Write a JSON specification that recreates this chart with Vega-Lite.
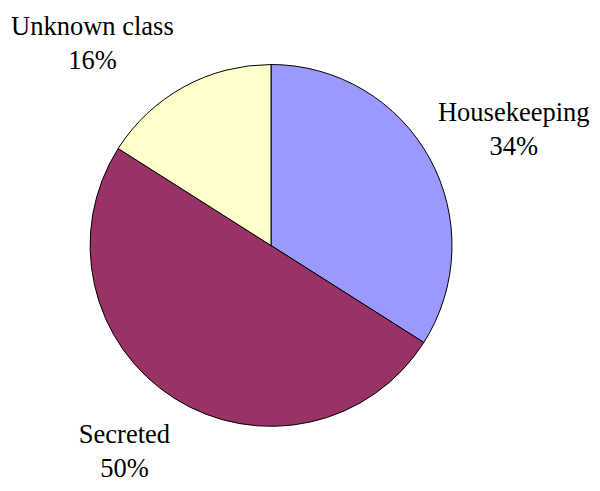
{
  "$schema": "https://vega.github.io/schema/vega-lite/v6.json",
  "width": 542,
  "height": 491,
  "autosize": {"type": "none"},
  "padding": {"left": 0, "top": 0, "right": 58, "bottom": 0},
  "background": "white",
  "view": {"stroke": null},
  "data": {
    "values": [
      {"category": "Housekeeping", "value": 34, "label": "Housekeeping\n34%", "order": 1},
      {"category": "Secreted", "value": 50, "label": "Secreted\n50%", "order": 2},
      {"category": "Unknown class", "value": 16, "label": "Unknown class\n16%", "order": 3}
    ]
  },
  "layer": [
    {
      "mark": {"type": "arc", "outerRadius": 181, "stroke": "black", "strokeWidth": 1},
      "encoding": {
        "theta": {"field": "value", "type": "quantitative", "stack": true},
        "order": {"field": "order", "type": "quantitative"},
        "color": {
          "field": "category",
          "type": "nominal",
          "scale": {"domain": ["Housekeeping", "Secreted", "Unknown class"], "range": ["#9999FF", "#993366", "#FFFFCC"]},
          "legend": null
        }
      }
    },
    {
      "transform": [
        {"window": [{"op": "sum", "field": "value", "as": "cum"}], "sort": [{"field": "order"}]},
        {"calculate": "datum.cum - datum.value / 2", "as": "mid"},
        {"filter": "datum.category === 'Housekeeping'"}
      ],
      "mark": {"type": "text", "font": "Liberation Serif", "fontSize": 26.5, "lineHeight": 34, "lineBreak": "\n", "color": "black", "align": "center", "baseline": "middle", "radius": 269, "dx": 7, "dy": -3},
      "encoding": {
        "theta": {"field": "mid", "type": "quantitative", "scale": {"domain": [0, 100], "range": [0, 6.283185307179586]}},
        "text": {"field": "label"}
      }
    },
    {
      "transform": [
        {"window": [{"op": "sum", "field": "value", "as": "cum"}], "sort": [{"field": "order"}]},
        {"calculate": "datum.cum - datum.value / 2", "as": "mid"},
        {"filter": "datum.category === 'Secreted'"}
      ],
      "mark": {"type": "text", "font": "Liberation Serif", "fontSize": 26.5, "lineHeight": 34, "lineBreak": "\n", "color": "black", "align": "center", "baseline": "middle", "radius": 253, "dx": -11, "dy": -24},
      "encoding": {
        "theta": {"field": "mid", "type": "quantitative", "scale": {"domain": [0, 100], "range": [0, 6.283185307179586]}},
        "text": {"field": "label"}
      }
    },
    {
      "transform": [
        {"window": [{"op": "sum", "field": "value", "as": "cum"}], "sort": [{"field": "order"}]},
        {"calculate": "datum.cum - datum.value / 2", "as": "mid"},
        {"filter": "datum.category === 'Unknown class'"}
      ],
      "mark": {"type": "text", "font": "Liberation Serif", "fontSize": 26.5, "lineHeight": 34, "lineBreak": "\n", "color": "black", "align": "center", "baseline": "middle", "radius": 269, "dx": -49, "dy": 17},
      "encoding": {
        "theta": {"field": "mid", "type": "quantitative", "scale": {"domain": [0, 100], "range": [0, 6.283185307179586]}},
        "text": {"field": "label"}
      }
    }
  ]
}
